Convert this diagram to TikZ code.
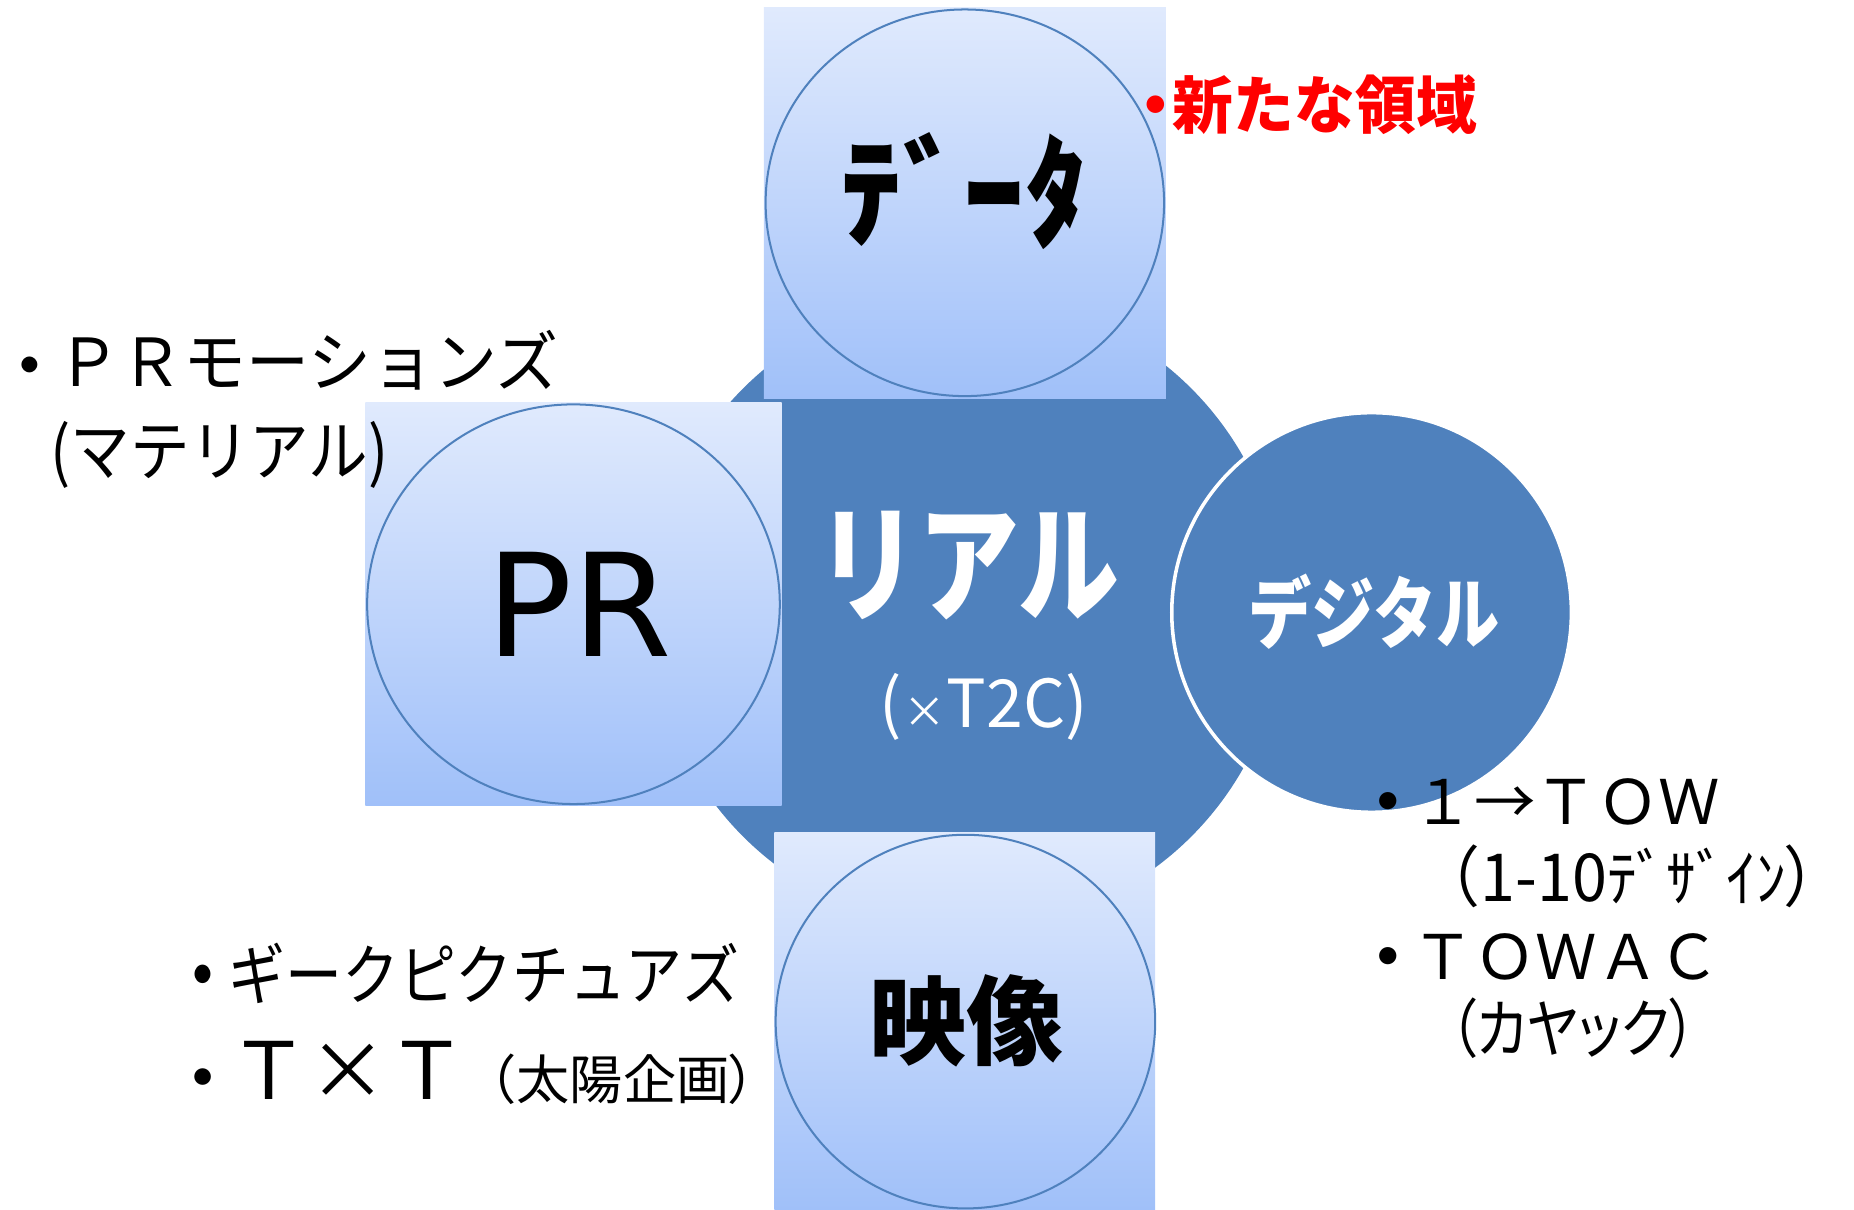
\documentclass[tikz,border=0pt]{standalone}
\usepackage{fontspec}
\newfontfamily\jp{Noto Sans CJK JP}
\newfontfamily\jpp[RawFeature=+palt]{Noto Sans CJK JP}
\newfontfamily\dv{DejaVu Sans}
\usetikzlibrary{shapes.geometric}
\definecolor{ringblue}{RGB}{79,129,189}
\definecolor{rtop}{RGB}{224,234,253}
\definecolor{rbot}{RGB}{160,192,249}
\newcommand{\setfs}[1]{\fontsize{#1}{#1}\selectfont}
\newcommand{\bdot}[1]{\makebox[#1][c]{\hbox to 0pt{\hss\bfseries ・\hss}}}
\begin{document}
\begin{tikzpicture}[x=1pt,y=-1pt,
  lightrect/.style={rectangle,top color=rtop,bottom color=rbot,draw=none,inner sep=0pt},
  ring/.style={ellipse,draw=ringblue,line width=1.7pt,inner sep=0pt},
  lbl/.style={inner sep=0pt,outer sep=0pt},
  darkdisk/.style={circle,fill=ringblue,inner sep=0pt}]
\useasboundingbox (0,0) rectangle (1568,1023);
% central disc and digital disc
\node[darkdisk,minimum size=536pt] (real) at (818,518) {};
\node[darkdisk,draw=white,line width=3pt,minimum size=338pt] (digital) at (1160,518) {};
% light squares with rings
\node[lightrect,minimum width=340pt,minimum height=331pt] (datarect) at (816,171.5) {};
\node[ring,minimum width=337pt,minimum height=327pt] (data) at (816,171.5) {};
\node[lightrect,minimum width=352pt,minimum height=341pt] (prrect) at (485,510.5) {};
\node[ring,minimum width=349pt,minimum height=338pt] (pr) at (485,511) {};
\node[lightrect,minimum width=322pt,minimum height=319pt] (eizorect) at (816,863.5) {};
\node[ring,minimum width=321pt,minimum height=316pt] (eizo) at (816.5,864) {};
% labels in shapes
\node[lbl] (datalbl) at (815,162) {\jp\bfseries\setfs{104}ﾃﾞｰﾀ};
\node[lbl] (prlbl) at (490,511) {\dv\setfs{121}PR};
\node[lbl,text=white] (reallbl) at (819,478) {\jp\bfseries\scalebox{0.79}[1]{\setfs{108}リアル}};
\node[lbl,text=white] (t2c) at (832,598) {\jp\setfs{56}(\kern1pt{\setfs{36}×}\kern1pt T2C)};
\node[lbl,text=white] (diglbl) at (1162,517) {\jp\bfseries\scalebox{0.81}[1]{\setfs{66}デジタル}};
\node[lbl] (eizolbl) at (817.5,863) {\jp\bfseries\setfs{82}映像};
% free texts
\node[lbl,text=red,anchor=base west] (newarea) at (963,109) {\jp\bfseries\setfs{53}\makebox[29pt][c]{\hbox to 0pt{\hss・\hss}}\scalebox{0.97}[1]{新たな領域}};
\node[lbl,anchor=base west] (prm1) at (1,327) {\jp{\setfs{48}\bdot{48pt}}\scalebox{0.95}[1]{\setfs{56}ＰＲモーションズ}};
\node[lbl,anchor=base west] (prm2) at (43,402) {\jp\scalebox{0.9}[1]{\setfs{56}(マテリアル)}};
\node[lbl,anchor=base west] (geek) at (150,845) {\jp\scalebox{0.86}[1]{\setfs{56}\bdot{50pt}ギークピクチュアズ}};
\node[lbl,anchor=base west] (txt) at (150,930) {\jp{\setfs{50}\bdot{44pt}}{\setfs{67}Ｔ×Ｔ}{\setfs{45}\hspace{-3pt}（太陽企画{\jpp ）}}};
\node[lbl,anchor=base west] (tow1) at (1153,697) {\jp\setfs{52}\bdot{42pt}１→ＴＯＷ};
\node[lbl,anchor=base west] (tow2) at (1199,762) {\jp\scalebox{0.95}[1]{\setfs{56}（1-10{\setfs{53}ﾃﾞｻﾞｲﾝ}{\jpp ）}}};
\node[lbl,anchor=base west] (towac) at (1153,828) {\jp\setfs{52}\bdot{42pt}ＴＯＷＡＣ};
\node[lbl,anchor=base west] (kayak) at (1226,890) {\jpp\scalebox{0.85}[1]{\setfs{54}（カヤック）}};
\end{tikzpicture}
\end{document}
